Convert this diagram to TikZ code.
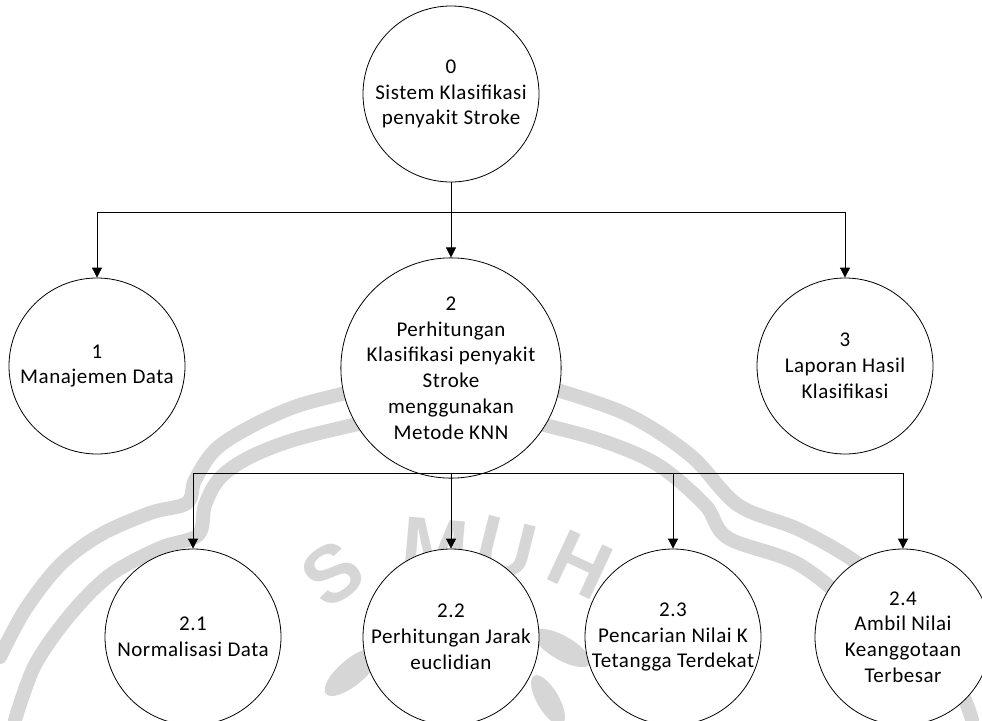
\documentclass[tikz,border=0pt]{standalone}
\usepackage{fontspec}
\setmainfont{Carlito}[LetterSpace=2.5]
\newfontfamily\markfont{Liberation Sans Bold}
\usetikzlibrary{arrows.meta}
\begin{document}
\begin{tikzpicture}[x=1pt,y=-1pt,
  proc/.style={circle, draw, fill=white, line width=0.8pt, minimum size=176pt,
    inner sep=0pt, align=center, font=\fontsize{21}{25.8}\selectfont},
  link/.style={line width=0.8pt},
  flow/.style={line width=0.8pt, -{Triangle[length=10pt,width=10pt]}},
  band/.style={draw=black!16, line width=14pt, line cap=round, line join=round},
  leaf/.style={fill=black!16, draw=none},
  wm/.style={text=black!16, inner sep=0pt, font=\markfont\fontsize{80}{80}\selectfont}]
\useasboundingbox (0,0) rectangle (982,720);

% faint emblem in the background
\draw[band] plot[smooth, tension=0.55] coordinates {(368,388) (300,405) (250,427) (215,450) (195,480) (187,503) (150,513) (100,535) (60,565) (25,610) (0,657)};
\draw[band] plot[smooth, tension=0.55] coordinates {(385,418) (300,438) (250,457) (220,478) (205,505) (198,535) (160,548) (110,575) (70,615) (35,665) (15,720)};
\draw[band] plot[smooth, tension=0.55] coordinates {(530,382) (624,413) (690,455) (738,505) (800,530) (860,565) (915,615) (960,690) (972,720)};
\draw[band] plot[smooth, tension=0.55] coordinates {(524,420) (600,440) (658,465) (705,505) (728,538) (800,565) (865,620) (905,680) (922,720)};
\node[wm, rotate=35] (ws) at (333,574) {S};
\node[wm, rotate=-5] (wmm) at (435,547) {M};
\node[wm, rotate=-14] (wu) at (506,548) {U};
\node[wm, rotate=-25] (wh) at (580,565) {H};
\fill[leaf, rotate around={40:(352,672)}] (352,672) ellipse (34pt and 13pt);
\fill[leaf, rotate around={-30:(562,648)}] (562,648) ellipse (32pt and 12pt);
\fill[leaf, rotate around={-60:(548,700)}] (548,700) ellipse (28pt and 11pt);

% processes
\node[proc] (c0) at (451,94) {0\\Sistem Klasifikasi\\penyakit Stroke};
\node[proc] (c1) at (97,366) {1\\Manajemen Data};
\node[proc] (c2) at (451,368) {2\\Perhitungan\\Klasifikasi penyakit\\Stroke\\menggunakan\\Metode KNN};
\node[proc] (c3) at (845,366) {3\\Laporan Hasil\\Klasifikasi};
\node[proc] (c21) at (193,637) {2.1\\Normalisasi Data};
\node[proc] (c22) at (451,637) {2.2\\Perhitungan Jarak\\euclidian};
\node[proc] (c23) at (673,637) {2.3\\Pencarian Nilai K\\Tetangga Terdekat};
\node[proc] (c24) at (903,637) {2.4\\Ambil Nilai\\Keanggotaan\\Terbesar};

% branch points
\coordinate (j0) at (451,212);
\coordinate (j1) at (451,473);

% decomposition of process 0
\draw[link] (c0) -- (j0);
\draw[flow] (j0) -| (c1);
\draw[flow] (j0) -- (c2);
\draw[flow] (j0) -| (c3);

% decomposition of process 2
\draw[link] (c2) -- (j1);
\draw[flow] (j1) -| (c21);
\draw[flow] (j1) -- (c22);
\draw[flow] (j1) -| (c23);
\draw[flow] (j1) -| (c24);
\end{tikzpicture}
\end{document}
